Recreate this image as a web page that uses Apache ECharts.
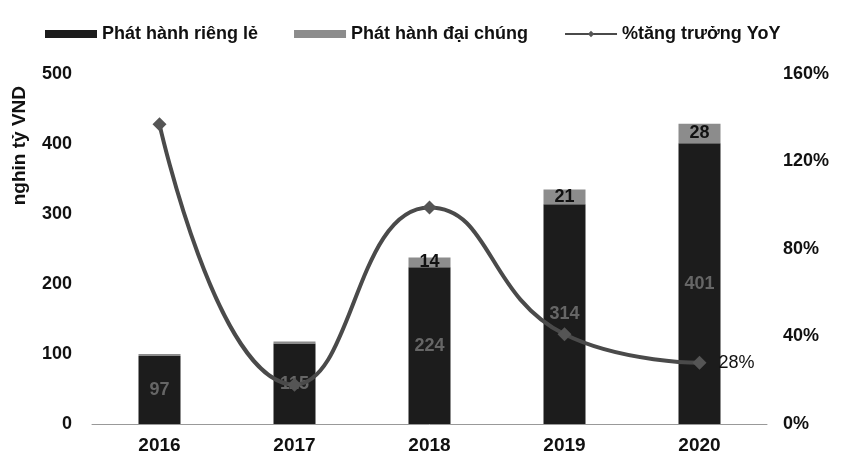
<!DOCTYPE html>
<html>
<head>
<meta charset="utf-8">
<script src="https://cdn.jsdelivr.net/npm/echarts@6/dist/echarts.min.js"></script>
<style>
html,body{margin:0;padding:0;background:#fff;}
#chart{width:843px;height:459px;}
</style>
</head>
<body>
<div id="chart"></div>
<script>
"use strict";
// du lieu
var years = ['2016', '2017', '2018', '2019', '2020'];
var riengLe = [97, 115, 224, 314, 401];
var daiChung = [3, 3, 14, 21, 28];
var tangTruong = [137, 18, 99, 41, 28];
var leftTicks = [0, 100, 200, 300, 400, 500];
var rightTicks = [0, 40, 80, 120, 160];

var FONT = '"Liberation Sans", Arial, sans-serif';
var myChart = echarts.init(document.getElementById('chart'));
var option = {
    backgroundColor: '#fff',
    textStyle: { fontFamily: FONT },
    legend: {
        left: 40, top: 20,
        itemGap: 36,
        itemWidth: 52, itemHeight: 8,
        textStyle: { fontSize: 18, fontWeight: 'bold', color: '#111', fontFamily: FONT },
        data: [
            { name: 'Phát hành riêng lẻ', icon: 'rect' },
            { name: 'Phát hành đại chúng', icon: 'rect' },
            { name: '%tăng trưởng YoY' }
        ]
    },
    grid: { left: 92, right: 76, top: 74, bottom: 35 },
    graphic: [{
        type: 'text', left: 10, top: 86, rotation: Math.PI / 2,
        style: { text: 'nghin tỷ VND', font: 'bold 19px ' + FONT, fill: '#111' }
    }],
    xAxis: {
        type: 'category', data: years,
        axisLine: { lineStyle: { color: '#999' } },
        axisTick: { show: false },
        axisLabel: { fontSize: 19, fontWeight: 'bold', color: '#111', margin: 12 }
    },
    yAxis: [{
        type: 'value', min: leftTicks[0], max: leftTicks[leftTicks.length - 1], interval: 100,
        splitLine: { show: false },
        axisLine: { show: false }, axisTick: { show: false },
        axisLabel: { fontSize: 18, fontWeight: 'bold', color: '#111', margin: 20 }
    }, {
        type: 'value', min: rightTicks[0], max: rightTicks[rightTicks.length - 1], interval: 40,
        splitLine: { show: false },
        axisLine: { show: false }, axisTick: { show: false },
        axisLabel: { fontSize: 18, fontWeight: 'bold', color: '#111', margin: 16, formatter: '{value}%' }
    }],
    series: [{
        name: 'Phát hành riêng lẻ', type: 'bar', stack: 'tong', barWidth: 42,
        itemStyle: { color: '#1c1c1c' },
        label: { show: true, position: 'inside', color: '#666', fontSize: 18, fontWeight: 'bold' },
        data: riengLe
    }, {
        name: 'Phát hành đại chúng', type: 'bar', stack: 'tong', barWidth: 42,
        itemStyle: { color: '#8c8c8c' },
        label: {
            show: true, position: 'inside', color: '#111', fontSize: 18, fontWeight: 'bold',
            formatter: function (p) { return p.value >= 10 ? p.value : ''; }
        },
        data: daiChung
    }, {
        name: '%tăng trưởng YoY', type: 'line', yAxisIndex: 1, smooth: 0.5, z: 5,
        symbol: 'diamond', symbolSize: 14,
        lineStyle: { color: '#4a4a4a', width: 4 },
        itemStyle: { color: '#555' },
        label: {
            show: true, position: 'right', distance: 12, color: '#111', fontSize: 18,
            formatter: function (p) { return p.dataIndex === years.length - 1 ? p.value + '%' : ''; }
        },
        data: tangTruong
    }]
};
myChart.setOption(option, true);
</script>
</body>
</html>
